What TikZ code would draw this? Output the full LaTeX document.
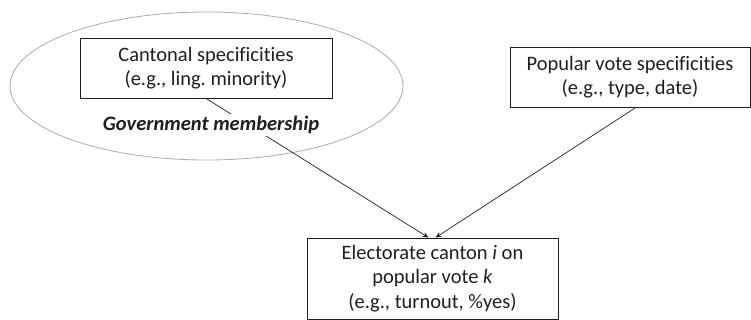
\documentclass[tikz,border=0pt]{standalone}
\usepackage{fontspec}
\setmainfont[Ligatures={NoCommon,NoDiscretionary,NoContextual}]{Carlito}
\frenchspacing
\usetikzlibrary{shapes.geometric,arrows.meta}
\definecolor{txt}{HTML}{1E1E1E}
\definecolor{ell}{HTML}{AAAAAA}
\tikzset{
  box/.style={draw=txt, line width=0.8pt, rectangle, align=center, inner sep=0pt, text=txt,
    font=\fontsize{20.5}{24.5}\selectfont},
  conn/.style={draw=txt, line width=0.7pt, -{Stealth[length=6pt,width=5pt]}},
}
\begin{document}
\begin{tikzpicture}[x=1pt,y=-1pt]
\useasboundingbox (0,0) rectangle (751,320);
\node[ellipse, draw=ell, line width=0.8pt, minimum width=393pt, minimum height=148pt, inner sep=0pt] (ell) at (206.5,86) {};
\node[box, minimum width=252pt, minimum height=60pt] (cant) at (206,68) {Cantonal specificities\\(e.g., ling. minority)};
\node[box, minimum width=240pt, minimum height=60pt] (pop) at (630,77) {Popular vote specificities\\(e.g., type, date)};
\node[box, minimum width=251pt, minimum height=81pt] (elec) at (432.5,278.5) {Electorate canton \textit{i} on\\popular vote \textit{k}\\(e.g., turnout, \%yes)};
\draw[conn] (cant.south) -- ([xshift=-4pt]elec.north);
\draw[conn] ([xshift=6pt]pop.south) -- ([xshift=3pt]elec.north);
\node[fill=white, inner sep=2pt, text=txt, font=\fontsize{20.5}{24.5}\selectfont\bfseries\itshape] (gov) at (211,125) {Government membership};
\end{tikzpicture}
\end{document}
